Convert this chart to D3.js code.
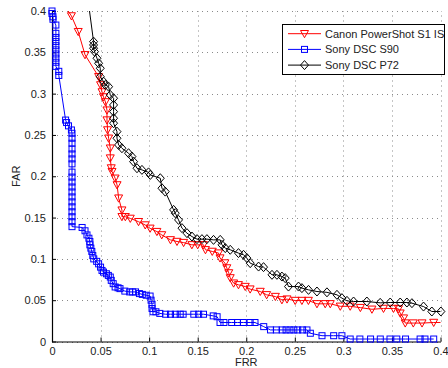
<!DOCTYPE html>
<html><head><meta charset="utf-8">
<script src="https://cdn.jsdelivr.net/npm/d3@7"></script>
<style>
html,body{margin:0;padding:0;background:#fff;}
svg{display:block;font-family:"Liberation Sans",Arial,Helvetica,sans-serif;}
</style></head>
<body>
<svg id="chart" width="448" height="368"></svg>
<script>
const xTicks = [0,0.05,0.1,0.15,0.2,0.25,0.3,0.35,0.4];
const yTicks = [0,0.05,0.1,0.15,0.2,0.25,0.3,0.35,0.4];
const xTickLabels = ["0","0.05","0.1","0.15","0.2","0.25","0.3","0.35","0.4"];
const yTickLabels = ["0","0.05","0.1","0.15","0.2","0.25","0.3","0.35","0.4"];
const seriesNames = ["Canon PowerShot S1 IS","Sony DSC S90","Sony DSC P72"];

const canonFRR = [0.011,0.020,0.027,0.034,0.048,0.050,0.0515,0.053,0.055,0.0566,0.0566,0.0572,0.0583,0.060,0.060,0.061,0.0618,0.065,0.067,0.0686,0.072,0.072,0.0755,0.0806,0.0891,0.096,0.101,0.108,0.113,0.122,0.1287,0.1355,0.144,0.150,0.156,0.158,0.165,0.1715,0.173,0.178,0.180,0.182,0.1835,0.187,0.192,0.199,0.204,0.2144,0.221,0.230,0.2367,0.242,0.2504,0.2573,0.264,0.2728,0.2813,0.2865,0.2968,0.307,0.3175,0.3294,0.3413,0.3516,0.3568,0.3585,0.362,0.3637,0.372,0.381,0.393,0.405];
const canonFAR = [0.410,0.394,0.375,0.347,0.3205,0.3105,0.302,0.296,0.290,0.280,0.268,0.256,0.246,0.234,0.222,0.210,0.2056,0.1976,0.1895,0.1735,0.159,0.151,0.151,0.149,0.145,0.141,0.137,0.133,0.129,0.123,0.121,0.1197,0.117,0.117,0.117,0.111,0.109,0.107,0.101,0.095,0.089,0.083,0.077,0.0706,0.0686,0.0665,0.0634,0.0605,0.0565,0.0544,0.0504,0.0513,0.0496,0.0496,0.0496,0.0456,0.0456,0.0456,0.0426,0.0426,0.041,0.039,0.040,0.040,0.0395,0.0343,0.0283,0.0223,0.0223,0.0223,0.023,0.023];

const s90FRR = [0.000,0.000,0.001,0.001,0.004,0.004,0.004,0.004,0.004,0.004,0.004,0.004,0.004,0.004,0.007,0.007,0.014,0.015,0.017,0.020,0.0206,0.0206,0.0206,0.0206,0.0206,0.0206,0.0206,0.0206,0.0206,0.0206,0.0206,0.0206,0.0206,0.0206,0.0206,0.0206,0.0206,0.0206,0.0206,0.031,0.034,0.036,0.038,0.039,0.039,0.040,0.041,0.042,0.043,0.046,0.048,0.050,0.0515,0.053,0.056,0.058,0.060,0.061,0.063,0.065,0.068,0.070,0.075,0.080,0.083,0.086,0.090,0.093,0.097,0.101,0.102,0.103,0.103,0.104,0.107,0.111,0.117,0.122,0.127,0.132,0.135,0.146,0.151,0.156,0.166,0.170,0.173,0.177,0.185,0.191,0.197,0.204,0.209,0.218,0.225,0.231,0.237,0.241,0.245,0.249,0.253,0.258,0.2625,0.266,0.278,0.290,0.2985,0.307,0.317,0.328,0.338,0.348,0.355,0.364,0.379,0.384,0.393];
const s90FAR = [0.400,0.397,0.393,0.390,0.383,0.373,0.368,0.363,0.358,0.353,0.348,0.343,0.338,0.333,0.327,0.322,0.268,0.265,0.261,0.256,0.252,0.246,0.240,0.233,0.227,0.221,0.215,0.205,0.199,0.193,0.187,0.181,0.175,0.169,0.163,0.157,0.151,0.145,0.139,0.138,0.134,0.129,0.125,0.121,0.117,0.113,0.109,0.104,0.100,0.097,0.094,0.090,0.086,0.084,0.082,0.080,0.078,0.074,0.070,0.066,0.065,0.064,0.061,0.060,0.060,0.060,0.058,0.057,0.056,0.055,0.050,0.045,0.040,0.036,0.036,0.034,0.033,0.033,0.033,0.033,0.033,0.033,0.033,0.033,0.031,0.030,0.023,0.023,0.023,0.023,0.023,0.023,0.023,0.018,0.014,0.014,0.014,0.014,0.014,0.014,0.014,0.014,0.014,0.010,0.007,0.007,0.007,0.003,0.003,0.003,0.003,0.003,0.003,0.003,0.003,0.003,0.003];

const p72FRR = [0.033,0.0428,0.0428,0.0428,0.0438,0.0463,0.048,0.0497,0.0497,0.0531,0.0549,0.0583,0.060,0.0634,0.0634,0.0634,0.0634,0.0634,0.0669,0.0669,0.0686,0.072,0.0788,0.0823,0.084,0.0875,0.0926,0.0994,0.1012,0.1115,0.1132,0.1166,0.1252,0.1269,0.1303,0.1338,0.139,0.1441,0.1493,0.1544,0.1595,0.1663,0.1732,0.175,0.1784,0.1835,0.192,0.1972,0.2007,0.2041,0.2127,0.2178,0.2265,0.2316,0.2367,0.2401,0.2435,0.2538,0.2573,0.2641,0.2728,0.2831,0.2934,0.2985,0.3037,0.3105,0.3242,0.3379,0.3482,0.3585,0.3654,0.3706,0.3825,0.3911,0.4004];
const p72FAR = [0.450,0.3629,0.3589,0.3549,0.3508,0.3428,0.3367,0.3307,0.3205,0.3145,0.3105,0.3084,0.2984,0.2944,0.2863,0.2782,0.2702,0.2642,0.254,0.246,0.2379,0.2339,0.2279,0.2238,0.2177,0.2097,0.2077,0.2047,0.2016,0.1976,0.1855,0.1814,0.1593,0.1553,0.1472,0.1372,0.1311,0.127,0.1239,0.1239,0.1239,0.123,0.123,0.117,0.113,0.111,0.107,0.1049,0.1009,0.0948,0.0907,0.09,0.0807,0.0807,0.0786,0.0767,0.0665,0.0665,0.0646,0.0625,0.0605,0.0595,0.0565,0.0525,0.0492,0.0484,0.0484,0.0468,0.0472,0.0472,0.0472,0.0464,0.0423,0.0363,0.0363];

const W = 448, H = 368;
const L = 52, R = 440.5, T = 11, B = 341.5;
const svg = d3.select("#chart");
const x = d3.scaleLinear().domain([0,0.4]).range([L,R]);
const y = d3.scaleLinear().domain([0,0.4]).range([B,T]);

// grid
const grid = svg.append("g").attr("stroke","#8a8a8a").attr("stroke-width",1).attr("stroke-dasharray","1,4");
xTicks.forEach(t=>{ grid.append("line").attr("x1",Math.round(x(t))+0.5).attr("x2",Math.round(x(t))+0.5).attr("y1",B).attr("y2",T); });
yTicks.forEach(t=>{ grid.append("line").attr("y1",Math.round(y(t))+0.5).attr("y2",Math.round(y(t))+0.5).attr("x1",L).attr("x2",R); });

// axes
const xAxis = d3.axisBottom(x).tickValues(xTicks).tickFormat((d,i)=>xTickLabels[i]).tickSizeInner(-4).tickSizeOuter(0).tickPadding(8);
const yAxis = d3.axisLeft(y).tickValues(yTicks).tickFormat((d,i)=>yTickLabels[i]).tickSizeInner(-4).tickSizeOuter(0).tickPadding(8);
const gx = svg.append("g").attr("transform",`translate(0,${B})`).call(xAxis);
const gy = svg.append("g").attr("transform",`translate(${L},0)`).call(yAxis);
[gx,gy].forEach(g=>{
  g.selectAll("text").attr("font-size",11).attr("fill","#222").attr("font-family","Liberation Sans, Arial, sans-serif");
  g.selectAll("line").attr("stroke","#000");
  g.select(".domain").attr("stroke","#000").attr("stroke-width",1.2);
});
gx.selectAll("text").attr("dy","0.5em");
gy.selectAll("text").attr("dx","2");

svg.append("text").attr("x",(L+R)/2).attr("y",366).attr("text-anchor","middle").attr("font-size",11).attr("fill","#222").text("FRR");
svg.append("text").attr("transform",`translate(20,${(T+B)/2}) rotate(-90)`).attr("text-anchor","middle").attr("font-size",11).attr("fill","#222").text("FAR");

// clip
svg.append("defs").append("clipPath").attr("id","clip").append("rect").attr("x",L).attr("y",T).attr("width",R-L).attr("height",B-T);

const tri = d3.symbol().type(d3.symbolTriangle).size(30);
const series = [
  {name:seriesNames[0], xs:canonFRR, ys:canonFAR, color:"#ff0000", marker:"tri"},
  {name:seriesNames[1], xs:s90FRR, ys:s90FAR, color:"#0000ff", marker:"sq"},
  {name:seriesNames[2], xs:p72FRR, ys:p72FAR, color:"#000000", marker:"dia"},
];
function drawMarker(g, type, cx, cy, color){
  if(type==="tri"){
    g.append("path").attr("d","M-4,-3.2L4,-3.2L0,4Z").attr("transform",`translate(${cx},${cy})`).attr("fill","none").attr("stroke",color).attr("stroke-width",1);
  } else if(type==="sq"){
    g.append("rect").attr("x",cx-3).attr("y",cy-3).attr("width",6).attr("height",6).attr("fill","none").attr("stroke",color).attr("stroke-width",1);
  } else {
    g.append("path").attr("d","M0,-4.5L4,0L0,4.5L-4,0Z").attr("transform",`translate(${cx},${cy})`).attr("fill","none").attr("stroke",color).attr("stroke-width",1);
  }
}
const line = d3.line().x(d=>x(d[0])).y(d=>y(d[1]));
series.forEach(s=>{
  const pts = s.xs.map((v,i)=>[v,s.ys[i]]);
  svg.append("path").datum(pts).attr("d",line).attr("fill","none").attr("stroke",s.color).attr("stroke-width",1).attr("clip-path","url(#clip)");
  const g = svg.append("g");
  pts.filter(p=>p[0]<=0.4005 && p[1]<=0.4005).forEach(p=>drawMarker(g,s.marker,x(p[0]),y(p[1]),s.color));
});

// legend
const lg = svg.append("g");
lg.append("rect").attr("x",282.5).attr("y",24.5).attr("width",162).attr("height",50).attr("fill","#fff").attr("stroke","#000").attr("stroke-width",1);
series.forEach((s,i)=>{
  const cy = 33.7 + i*15.7;
  lg.append("line").attr("x1",288).attr("x2",321).attr("y1",cy).attr("y2",cy).attr("stroke",s.color).attr("stroke-width",1);
  drawMarker(lg,s.marker,304.5,cy,s.color);
  lg.append("text").attr("x",325).attr("y",cy).attr("dy","0.35em").attr("font-size",11).attr("fill","#222").text(s.name);
});
</script>
</body></html>
